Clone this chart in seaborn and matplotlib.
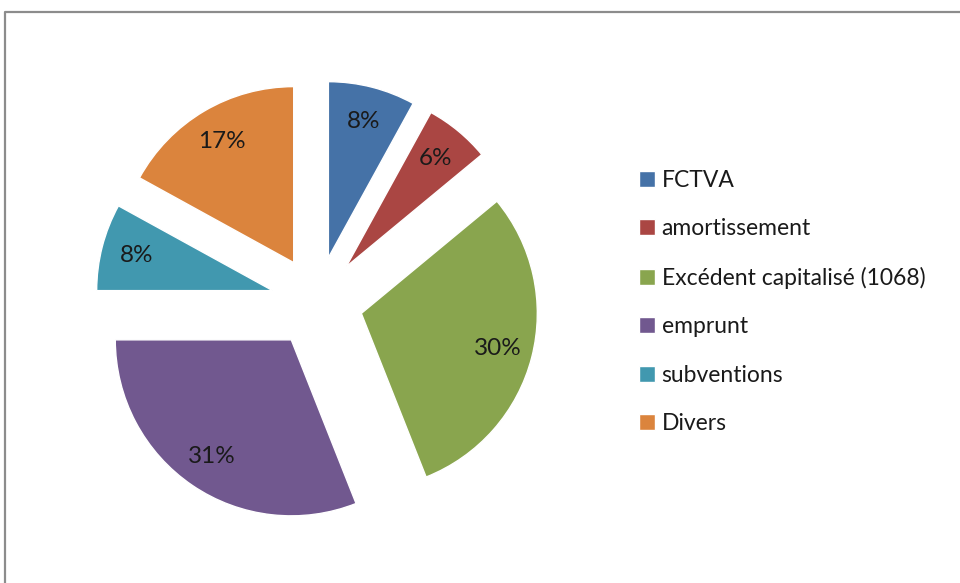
import matplotlib
matplotlib.use("Agg")
import matplotlib.pyplot as plt
import seaborn as sns
from matplotlib.lines import Line2D

categories = ["FCTVA", "amortissement", "Excédent capitalisé (1068)", "emprunt", "subventions", "Divers"]
shares = [8, 6, 30, 31, 8, 17]
colors = ["#4572A7", "#AA4643", "#89A54E", "#71588F", "#4198AF", "#DB843D"]

sns.set_theme(style="white")
plt.rcParams["font.family"] = ["Lato", "DejaVu Sans"]

W, H = 960, 583
fig = plt.figure(figsize=(W / 100, H / 100), dpi=100)
ax = fig.add_axes([0, 0, 1, 1])

# pie centre / radius in pixels
cx, cy, R = 317, 302, 176
palette = sns.color_palette(colors)

wedges, texts, autotexts = ax.pie(
    shares,
    colors=palette,
    startangle=90,
    counterclock=False,
    explode=[0.26] * len(shares),
    autopct="%1.0f%%",
    pctdistance=0.8,
    radius=1,
    textprops={"fontsize": 17.5, "color": "#1a1a1a"},
)

ax.set_xlim(-cx / R, (W - cx) / R)
ax.set_ylim((cy - H) / R, cy / R)
ax.set_aspect("auto")
ax.axis("off")

leg = ax.legend(
    wedges, categories,
    loc="center left",
    bbox_to_anchor=(618 / W, 1 - 302 / H),
    bbox_transform=fig.transFigure,
    frameon=False,
    fontsize=16.5,
    handlelength=0.7,
    handleheight=0.7,
    handletextpad=0.3,
    labelspacing=1.2,
)
for t in leg.get_texts():
    t.set_color("#1a1a1a")

# chart frame (only top and left edges visible)
frame_col = "#8c8c8c"
fig.add_artist(Line2D([4.5 / W, 4.5 / W, 1.0], [0.0, 1 - 11.5 / H, 1 - 11.5 / H],
                      transform=fig.transFigure, color=frame_col, lw=1.6))

fig.savefig("out.png", dpi=100)
